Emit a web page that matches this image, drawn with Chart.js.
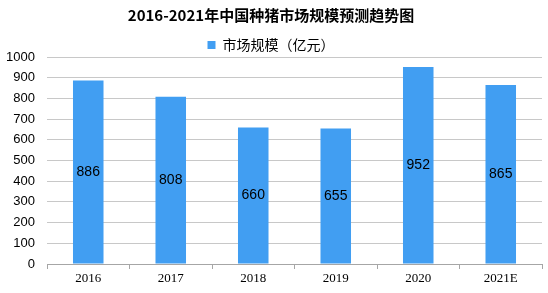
<!DOCTYPE html>
<html>
<head>
<meta charset="utf-8">
<script src="https://cdn.jsdelivr.net/npm/chart.js@4"></script>
<style>
  html, body { margin: 0; padding: 0; background: #fff; }
  #wrap { width: 548px; height: 293px; }
</style>
</head>
<body>
<div id="wrap"><canvas id="c" width="548" height="293"></canvas></div>
<script>
const years = ["2016", "2017", "2018", "2019", "2020", "2021E"];
const marketSize = [886, 808, 660, 655, 952, 865];
const yTicks = [0, 100, 200, 300, 400, 500, 600, 700, 800, 900, 1000];

// draw the value in the middle of each bar
const barLabels = {
  id: "barLabels",
  afterDatasetsDraw(chart) {
    const ctx = chart.ctx;
    const meta = chart.getDatasetMeta(0);
    ctx.save();
    ctx.font = "14px 'Liberation Sans', Arial, sans-serif";
    ctx.fillStyle = "#000";
    ctx.textAlign = "center";
    ctx.textBaseline = "middle";
    meta.data.forEach((bar, i) => {
      const mid = (bar.y + bar.base) / 2;
      ctx.fillText(marketSize[i], bar.x, mid);
    });
    ctx.restore();
  }
};

const chart = new Chart(document.getElementById("c"), {
  type: "bar",
  data: {
    labels: years,
    datasets: [{
      label: "市场规模（亿元）",
      data: marketSize,
      backgroundColor: "#419EF2",
      borderWidth: 0,
      categoryPercentage: 1,
      barPercentage: 0.37
    }]
  },
  options: {
    responsive: false,
    animation: false,
    layout: { padding: { left: 0, right: 6, top: 0, bottom: 0 } },
    plugins: {
      title: {
        display: true,
        text: "2016-2021年中国种猪市场规模预测趋势图",
        color: "#000",
        font: { family: "'Noto Sans CJK SC', serif", size: 15, weight: "bold" },
        padding: { top: 6, bottom: 14 }
      },
      legend: {
        display: true,
        labels: {
          color: "#000",
          boxWidth: 8,
          boxHeight: 8,
          padding: 0,
          font: { family: "'Noto Sans CJK SC', sans-serif", size: 14 }
        }
      },
      tooltip: { enabled: false }
    },
    scales: {
      x: {
        grid: {
          display: true,
          offset: true,
          drawOnChartArea: false,
          drawTicks: true,
          tickLength: 5,
          color: "#a6a6a6"
        },
        border: { color: "#a6a6a6" },
        ticks: {
          color: "#000",
          font: { family: "'Liberation Serif', serif", size: 13 },
          padding: 2
        },
        afterFit(s) { s.height = 29; }
      },
      y: {
        min: 0,
        max: 1000,
        afterBuildTicks(s) { s.ticks = yTicks.map(v => ({ value: v })); },
        grid: { color: "#c8c8c8", drawTicks: false },
        border: { display: false },
        ticks: {
          color: "#000",
          font: { family: "'Liberation Sans', Arial, sans-serif", size: 13 },
          padding: 12,
          callback: v => String(v)
        },
        afterFit(s) { s.width = 47; }
      }
    }
  },
  plugins: [barLabels]
});

// legend box is taller than in the original, squeeze it
const legendFit = chart.legend.fit;
chart.legend.fit = function () {
  legendFit.call(this);
  this.height = 19;
};
chart.update();
</script>
</body>
</html>
